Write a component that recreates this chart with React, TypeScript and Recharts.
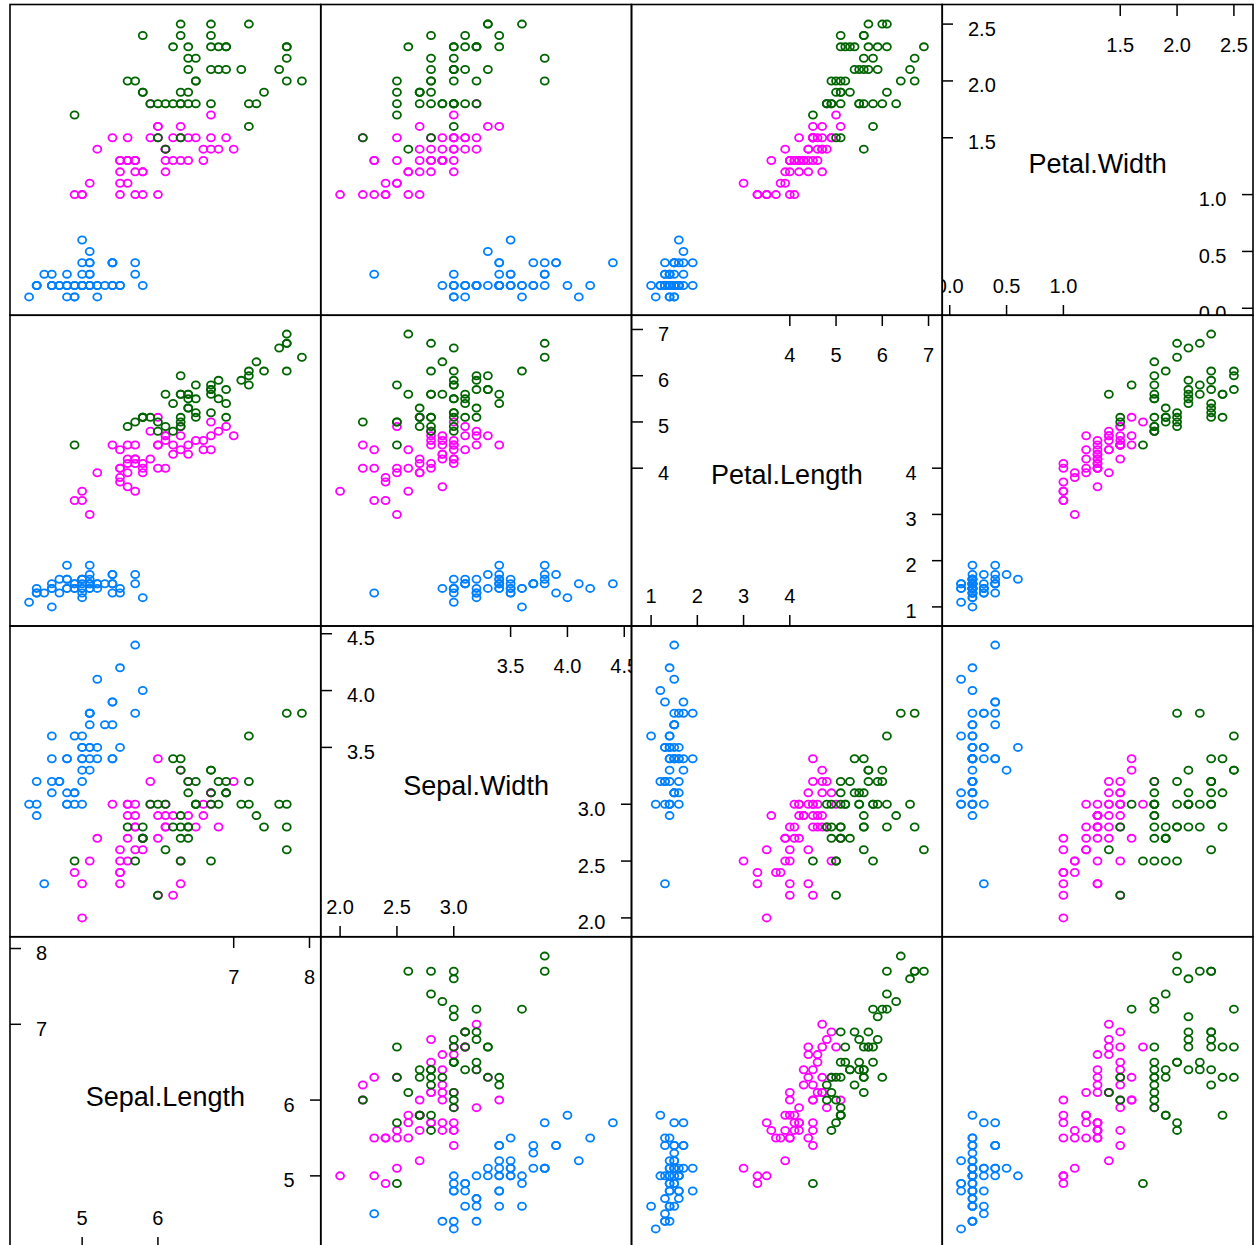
import React from 'react';
import { ScatterChart, Scatter, XAxis, YAxis } from 'recharts';

const varNames = ['Sepal.Length', 'Sepal.Width', 'Petal.Length', 'Petal.Width'];
const speciesNames = ['setosa', 'versicolor', 'virginica'];
const speciesColors = ['#0080ff', '#ff00ff', '#006400'];
const speciesCounts = [50, 50, 50];

// rows: 50 setosa, 50 versicolor, 50 virginica
const sepalLength = [
  5.1,4.9,4.7,4.6,5.0,5.4,4.6,5.0,4.4,4.9,5.4,4.8,4.8,4.3,5.8,5.7,5.4,5.1,5.7,5.1,5.4,5.1,4.6,5.1,4.8,5.0,5.0,5.2,5.2,4.7,4.8,5.4,5.2,5.5,4.9,5.0,5.5,4.9,4.4,5.1,5.0,4.5,4.4,5.0,5.1,4.8,5.1,4.6,5.3,5.0,
  7.0,6.4,6.9,5.5,6.5,5.7,6.3,4.9,6.6,5.2,5.0,5.9,6.0,6.1,5.6,6.7,5.6,5.8,6.2,5.6,5.9,6.1,6.3,6.1,6.4,6.6,6.8,6.7,6.0,5.7,5.5,5.5,5.8,6.0,5.4,6.0,6.7,6.3,5.6,5.5,5.5,6.1,5.8,5.0,5.6,5.7,5.7,6.2,5.1,5.7,
  6.3,5.8,7.1,6.3,6.5,7.6,4.9,7.3,6.7,7.2,6.5,6.4,6.8,5.7,5.8,6.4,6.5,7.7,7.7,6.0,6.9,5.6,7.7,6.3,6.7,7.2,6.2,6.1,6.4,7.2,7.4,7.9,6.4,6.3,6.1,7.7,6.3,6.4,6.0,6.9,6.7,6.9,5.8,6.8,6.7,6.7,6.3,6.5,6.2,5.9,
];
const sepalWidth = [
  3.5,3.0,3.2,3.1,3.6,3.9,3.4,3.4,2.9,3.1,3.7,3.4,3.0,3.0,4.0,4.4,3.9,3.5,3.8,3.8,3.4,3.7,3.6,3.3,3.4,3.0,3.4,3.5,3.4,3.2,3.1,3.4,4.1,4.2,3.1,3.2,3.5,3.6,3.0,3.4,3.5,2.3,3.2,3.5,3.8,3.0,3.8,3.2,3.7,3.3,
  3.2,3.2,3.1,2.3,2.8,2.8,3.3,2.4,2.9,2.7,2.0,3.0,2.2,2.9,2.9,3.1,3.0,2.7,2.2,2.5,3.2,2.8,2.5,2.8,2.9,3.0,2.8,3.0,2.9,2.6,2.4,2.4,2.7,2.7,3.0,3.4,3.1,2.3,3.0,2.5,2.6,3.0,2.6,2.3,2.7,3.0,2.9,2.9,2.5,2.8,
  3.3,2.7,3.0,2.9,3.0,3.0,2.5,2.9,2.5,3.6,3.2,2.7,3.0,2.5,2.8,3.2,3.0,3.8,2.6,2.2,3.2,2.8,2.8,2.7,3.3,3.2,2.8,3.0,2.8,3.0,2.8,3.8,2.8,2.8,2.6,3.0,3.4,3.1,3.0,3.1,3.1,3.1,2.7,3.2,3.3,3.0,2.5,3.0,3.4,3.0,
];
const petalLength = [
  1.4,1.4,1.3,1.5,1.4,1.7,1.4,1.5,1.4,1.5,1.5,1.6,1.4,1.1,1.2,1.5,1.3,1.4,1.7,1.5,1.7,1.5,1.0,1.7,1.9,1.6,1.6,1.5,1.4,1.6,1.6,1.5,1.5,1.4,1.5,1.2,1.3,1.4,1.3,1.5,1.3,1.3,1.3,1.6,1.9,1.4,1.6,1.4,1.5,1.4,
  4.7,4.5,4.9,4.0,4.6,4.5,4.7,3.3,4.6,3.9,3.5,4.2,4.0,4.7,3.6,4.4,4.5,4.1,4.5,3.9,4.8,4.0,4.9,4.7,4.3,4.4,4.8,5.0,4.5,3.5,3.8,3.7,3.9,5.1,4.5,4.5,4.7,4.4,4.1,4.0,4.4,4.6,4.0,3.3,4.2,4.2,4.2,4.3,3.0,4.1,
  6.0,5.1,5.9,5.6,5.8,6.6,4.5,6.3,5.8,6.1,5.1,5.3,5.5,5.0,5.1,5.3,5.5,6.7,6.9,5.0,5.7,4.9,6.7,4.9,5.7,6.0,4.8,4.9,5.6,5.8,6.1,6.4,5.6,5.1,5.6,6.1,5.6,5.5,4.8,5.4,5.6,5.1,5.1,5.9,5.7,5.2,5.0,5.2,5.4,5.1,
];
const petalWidth = [
  0.2,0.2,0.2,0.2,0.2,0.4,0.3,0.2,0.2,0.1,0.2,0.2,0.1,0.1,0.2,0.4,0.4,0.3,0.3,0.3,0.2,0.4,0.2,0.5,0.2,0.2,0.4,0.2,0.2,0.2,0.2,0.4,0.1,0.2,0.2,0.2,0.2,0.1,0.2,0.2,0.3,0.3,0.2,0.6,0.4,0.3,0.2,0.2,0.2,0.2,
  1.4,1.5,1.5,1.3,1.5,1.3,1.6,1.0,1.3,1.4,1.0,1.5,1.0,1.4,1.3,1.4,1.5,1.0,1.5,1.1,1.8,1.3,1.5,1.2,1.3,1.4,1.4,1.7,1.5,1.0,1.1,1.0,1.2,1.6,1.5,1.6,1.5,1.3,1.3,1.3,1.2,1.4,1.2,1.0,1.3,1.2,1.3,1.3,1.1,1.3,
  2.5,1.9,2.1,1.8,2.2,2.1,1.7,1.8,1.8,2.5,2.0,1.9,2.1,2.0,2.4,2.3,1.8,2.2,2.3,1.5,2.3,2.0,2.0,1.8,2.1,1.8,1.8,1.8,2.1,1.6,1.9,2.0,2.2,1.5,1.4,2.3,2.4,1.8,1.8,2.1,2.4,2.3,1.9,2.3,2.5,2.3,1.9,2.0,2.3,1.8,
];

// diagonal panel tick values (lower part on bottom/right, upper part on top/left)
const lowTicks = [[5, 6], [2.0, 2.5, 3.0], [1, 2, 3, 4], [0.0, 0.5, 1.0]];
const highTicks = [[7, 8], [3.5, 4.0, 4.5], [4, 5, 6, 7], [1.5, 2.0, 2.5]];
const tickDecimals = [0, 1, 0, 1];

const columns = [sepalLength, sepalWidth, petalLength, petalWidth];

const P = 310.75;
const X0 = 10;
const Y0 = 4.5;
const W = 311;
const FONT = "'Liberation Sans', Arial, Helvetica, sans-serif";

const domains = columns.map((col) => {
  const lo = Math.min(...col);
  const hi = Math.max(...col);
  const ext = (hi - lo) * 0.07;
  return [lo - ext, hi + ext] as [number, number];
});

function groupRows(xi: number, yi: number) {
  const groups: { x: number; y: number }[][] = [];
  let start = 0;
  speciesCounts.forEach((n) => {
    const g: { x: number; y: number }[] = [];
    for (let i = start; i < start + n; i++) g.push({ x: columns[xi][i], y: columns[yi][i] });
    groups.push(g);
    start += n;
  });
  return groups;
}

const makeShape = (color: string) => (props: any) => {
  const { cx, cy } = props;
  if (cx == null || cy == null) return <g />;
  return <ellipse cx={cx} cy={cy} rx={4.0} ry={3.6} fill="none" stroke={color} strokeWidth={1.8} />;
};

const makeTick = (side: 'top' | 'bottom' | 'left' | 'right', dec: number) => (props: any) => {
  const { x, y, payload } = props;
  const label = Number(payload.value).toFixed(dec);
  const common = { fontSize: 20, fontFamily: FONT, fill: '#000' };
  if (side === 'top')
    return <text x={x} y={46.5} textAnchor="middle" {...common}>{label}</text>;
  if (side === 'bottom')
    return <text x={x} y={W - 23.5} textAnchor="middle" {...common}>{label}</text>;
  if (side === 'left')
    return <text x={26} y={y + 11.5} textAnchor="start" {...common}>{label}</text>;
  return <text x={W - 26.5} y={y + 11.5} textAnchor="end" {...common}>{label}</text>;
};

const tickLineStyle = { stroke: '#000', strokeWidth: 1.5 };

function Panel({ r, c }: { r: number; c: number }) {
  const xi = c;
  const yi = 3 - r;
  const style: React.CSSProperties = { position: 'absolute', left: X0 + c * P, top: Y0 + r * P };
  const margin = { top: 0, right: 0, bottom: 0, left: 0 };
  if (xi === yi) {
    const v = xi;
    const dec = tickDecimals[v];
    return (
      <div style={style}>
        <ScatterChart width={W} height={W} margin={margin}>
          <XAxis xAxisId="t" type="number" dataKey="x" orientation="top" mirror domain={domains[v]} allowDataOverflow
            ticks={highTicks[v]} interval={0} tickSize={11} axisLine={false} tickLine={tickLineStyle} tick={makeTick('top', dec)} />
          <XAxis xAxisId="b" type="number" dataKey="x" orientation="bottom" mirror domain={domains[v]} allowDataOverflow
            ticks={lowTicks[v]} interval={0} tickSize={11} axisLine={false} tickLine={tickLineStyle} tick={makeTick('bottom', dec)} />
          <YAxis yAxisId="l" type="number" dataKey="y" orientation="left" mirror domain={domains[v]} allowDataOverflow
            ticks={highTicks[v]} interval={0} tickSize={11} axisLine={false} tickLine={tickLineStyle} tick={makeTick('left', dec)} />
          <YAxis yAxisId="r" type="number" dataKey="y" orientation="right" mirror domain={domains[v]} allowDataOverflow
            ticks={lowTicks[v]} interval={0} tickSize={11} axisLine={false} tickLine={tickLineStyle} tick={makeTick('right', dec)} />
        </ScatterChart>
      </div>
    );
  }
  const groups = groupRows(xi, yi);
  return (
    <div style={style}>
      <ScatterChart width={W} height={W} margin={margin}>
        <XAxis type="number" dataKey="x" domain={domains[xi]} allowDataOverflow hide />
        <YAxis type="number" dataKey="y" domain={domains[yi]} allowDataOverflow hide />
        {groups.map((g, k) => (
          <Scatter key={speciesNames[k]} name={speciesNames[k]} data={g} isAnimationActive={false}
            shape={makeShape(speciesColors[k])} />
        ))}
      </ScatterChart>
    </div>
  );
}

export default function App() {
  const cells: { r: number; c: number }[] = [];
  for (let r = 0; r < 4; r++) for (let c = 0; c < 4; c++) cells.push({ r, c });
  return (
    <div style={{ position: 'absolute', left: 0, top: 0, width: 1257, height: 1260, background: '#fff', overflow: 'hidden' }}>
      {cells.map(({ r, c }) => (
        <Panel key={`${r}-${c}`} r={r} c={c} />
      ))}
      <svg width={1257} height={1260} style={{ position: 'absolute', left: 0, top: 0, pointerEvents: 'none' }}>
        {cells.map(({ r, c }) => (
          <rect key={`b${r}-${c}`} x={X0 + c * P} y={Y0 + r * P} width={P} height={P} fill="none" stroke="#000" strokeWidth={1.6} />
        ))}
        {varNames.map((name, v) => (
          <text key={name} x={X0 + v * P + P / 2} y={Y0 + (3 - v) * P + P / 2 + 13.5} textAnchor="middle"
            fontSize={27} fontFamily={FONT} fill="#000">{name}</text>
        ))}
      </svg>
    </div>
  );
}
